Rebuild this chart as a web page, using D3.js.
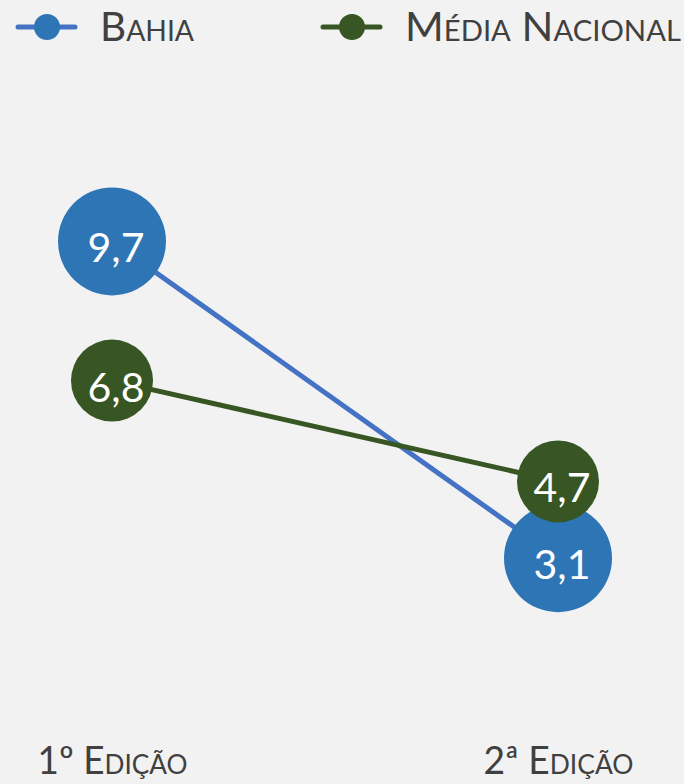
<!DOCTYPE html>
<html>
<head>
<meta charset="utf-8">
<script src="https://cdn.jsdelivr.net/npm/d3@7"></script>
<style>
  body { margin: 0; background: #f2f2f2; }
  svg { display: block; }
  text { font-family: Lato, "Open Sans", sans-serif; }
</style>
</head>
<body>
<svg id="chart"></svg>
<script>
var editions = ["1º Edição", "2ª Edição"];
var seriesNames = ["Bahia", "Média Nacional"];
var bahia = [9.7, 3.1];
var nacional = [6.8, 4.7];

var lineColors = ["#4472c4", "#375623"];
var dotColors = ["#2e75b6", "#375623"];
var radii = [54, 41];

var width = 684, height = 784;

var svg = d3.select("#chart").attr("width", width).attr("height", height);
svg.append("rect").attr("width", width).attr("height", height).attr("fill", "#f2f2f2");

var x = d3.scalePoint().domain(editions).range([112, 558]);
var y = d3.scaleLinear().domain([0, 12]).range([707, 131]);

var series = [bahia, nacional].map(function (vals, i) {
  return {
    name: seriesNames[i],
    points: vals.map(function (v, j) { return { ed: editions[j], v: v }; })
  };
});

var fmt = function (v) { return d3.format(".1f")(v).replace(".", ","); };

var line = d3.line().x(function (d) { return x(d.ed); }).y(function (d) { return y(d.v); });

// lines first
svg.selectAll(".serie-line")
  .data(series)
  .enter()
  .append("path")
  .attr("class", "serie-line")
  .attr("d", function (d) { return line(d.points); })
  .attr("fill", "none")
  .attr("stroke", function (d, i) { return lineColors[i]; })
  .attr("stroke-width", 5);

// then markers + labels
series.forEach(function (s, i) {
  var g = svg.append("g");
  g.selectAll("circle")
    .data(s.points)
    .enter()
    .append("circle")
    .attr("cx", function (d) { return x(d.ed); })
    .attr("cy", function (d) { return y(d.v); })
    .attr("r", radii[i])
    .attr("fill", dotColors[i]);
  g.selectAll("text")
    .data(s.points)
    .enter()
    .append("text")
    .attr("x", function (d) { return x(d.ed) + 4; })
    .attr("y", function (d) { return y(d.v) + 21; })
    .attr("text-anchor", "middle")
    .attr("fill", "#ffffff")
    .style("font-size", "41px")
    .text(function (d) { return fmt(d.v); });
});

// x axis labels
var xAxis = d3.axisBottom(x).tickSize(0).tickPadding(0);
var ax = svg.append("g").attr("transform", "translate(0,745)").call(xAxis);
ax.select(".domain").remove();
ax.selectAll("text")
  .attr("fill", "#404040")
  .attr("dy", "0")
  .attr("y", 29)
  .style("font-size", "38px")
  .style("font-variant", "small-caps")
  .attr("textLength", 150)
  .attr("lengthAdjust", "spacingAndGlyphs");

// legend
var legendX = [18, 323];
var legendTextLen = [94, 276];
var leg = svg.append("g");
series.forEach(function (s, i) {
  var lg = leg.append("g").attr("transform", "translate(" + legendX[i] + ",27)");
  lg.append("line").attr("x1", 0).attr("x2", 57).attr("y1", 0).attr("y2", 0)
    .attr("stroke", lineColors[i]).attr("stroke-width", 5).attr("stroke-linecap", "round");
  lg.append("circle").attr("cx", 29).attr("cy", 0).attr("r", 13).attr("fill", dotColors[i]);
  lg.append("text")
    .attr("x", 82)
    .attr("y", 14)
    .attr("fill", "#404040")
    .style("font-size", "40px")
    .style("font-variant", "small-caps")
    .attr("textLength", legendTextLen[i])
    .attr("lengthAdjust", "spacingAndGlyphs")
    .text(s.name);
});
</script>
</body>
</html>
